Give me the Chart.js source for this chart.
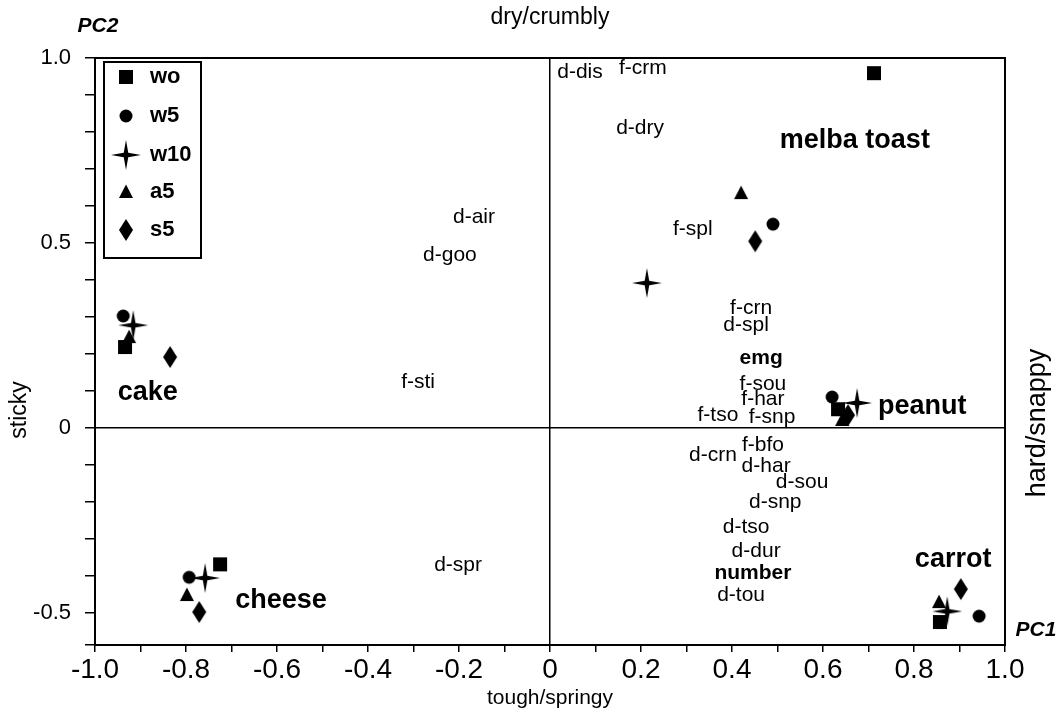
<!DOCTYPE html>
<html>
<head>
<meta charset="utf-8">
<script src="https://cdn.jsdelivr.net/npm/chart.js@4/dist/chart.umd.min.js"></script>
<style>
  html, body { margin: 0; padding: 0; background: #fff; }
  #wrap { width: 1059px; height: 717px; }
</style>
</head>
<body>
<div id="wrap"><canvas id="pca"></canvas></div>
<script>
// foods in order: cake, cheese, melba toast, peanut, carrot
const seriesNames = ['wo', 'w5', 'w10', 'a5', 's5'];
const woX = [-0.934, -0.725, 0.712, 0.633, 0.857];
const woY = [0.219, -0.368, 0.959, 0.051, -0.524];
const w5X = [-0.938, -0.793, 0.490, 0.620, 0.943];
const w5Y = [0.303, -0.403, 0.551, 0.084, -0.508];
const w10X = [-0.916, -0.758, 0.213, 0.675, 0.873];
const w10Y = [0.278, -0.405, 0.392, 0.068, -0.495];
const a5X = [-0.925, -0.798, 0.420, 0.642, 0.855];
const a5Y = [0.246, -0.451, 0.635, 0.022, -0.470];
const s5X = [-0.835, -0.771, 0.451, 0.655, 0.903];
const s5Y = [0.192, -0.497, 0.505, 0.035, -0.435];

// attribute / food labels placed in PC space
const labelText = ['d-dis', 'f-crm', 'd-dry', 'melba toast', 'd-air', 'd-goo', 'f-spl', 'f-crn', 'd-spl', 'emg',
  'f-sou', 'f-har', 'f-tso', 'f-snp', 'peanut', 'f-sti', 'cake', 'f-bfo', 'd-crn', 'd-har',
  'd-sou', 'd-snp', 'd-tso', 'd-dur', 'd-spr', 'number', 'd-tou', 'carrot', 'cheese'];
const labelX = [0.066, 0.204, 0.198, 0.670, -0.167, -0.220, 0.314, 0.442, 0.431, 0.464,
  0.468, 0.468, 0.369, 0.488, 0.818, -0.290, -0.884, 0.468, 0.358, 0.475,
  0.554, 0.495, 0.431, 0.453, -0.202, 0.446, 0.420, 0.886, -0.591];
const labelY = [0.962, 0.973, 0.811, 0.776, 0.570, 0.468, 0.538, 0.324, 0.278, 0.189,
  0.119, 0.078, 0.035, 0.030, 0.059, 0.124, 0.097, -0.046, -0.073, -0.103,
  -0.146, -0.200, -0.268, -0.332, -0.370, -0.392, -0.451, -0.354, -0.465];
// 0 = plain, 1 = bold, 2 = big bold
const labelKind = [0, 0, 0, 2, 0, 0, 0, 0, 0, 1,
  0, 0, 0, 0, 2, 0, 2, 0, 0, 0,
  0, 0, 0, 0, 0, 1, 0, 2, 2];

const xTicksMin = -1.0, xTicksMax = 1.0;
const yTicksMin = -0.586, yTicksMax = 1.0;

const FONT = '"Liberation Sans", Arial, sans-serif';

const marker = (shape) => {
  const c = document.createElement('canvas');
  const s = shape === 'star' ? 32 : 24;
  c.width = s; c.height = s;
  const g = c.getContext('2d');
  const m = s / 2;
  g.fillStyle = '#000';
  g.beginPath();
  if (shape === 'square') {
    g.rect(m - 7, m - 7, 14, 14);
  } else if (shape === 'circle') {
    g.arc(m, m, 6.5, 0, Math.PI * 2);
  } else if (shape === 'triangle') {
    g.moveTo(m, m - 7.5); g.lineTo(m + 7, m + 6); g.lineTo(m - 7, m + 6); g.closePath();
  } else if (shape === 'diamond') {
    g.moveTo(m, m - 11); g.lineTo(m + 7, m); g.lineTo(m, m + 11); g.lineTo(m - 7, m); g.closePath();
  } else if (shape === 'star') {
    for (let i = 0; i < 8; i++) {
      const a = i * Math.PI / 4 - Math.PI / 2;
      const r = i % 2 === 0 ? 15 : 3.2;
      const px = m + r * Math.cos(a), py = m + r * Math.sin(a);
      if (i === 0) g.moveTo(px, py); else g.lineTo(px, py);
    }
    g.closePath();
  }
  g.fill();
  return c;
};

const shapes = ['square', 'circle', 'star', 'triangle', 'diamond'];
const markers = shapes.map(marker);
const xs = [woX, w5X, w10X, a5X, s5X];
const ys = [woY, w5Y, w10Y, a5Y, s5Y];

const datasets = seriesNames.map((name, i) => ({
  label: name,
  data: xs[i].map((x, j) => ({ x: x, y: ys[i][j] })),
  pointStyle: markers[i],
  pointRadius: 8,
  backgroundColor: '#000',
  borderColor: '#000',
  showLine: false
}));

const decor = {
  id: 'decor',
  afterDatasetsDraw(chart) {
    const { ctx, chartArea: a, scales } = chart;
    ctx.save();
    // frame
    ctx.strokeStyle = '#000';
    ctx.lineWidth = 2;
    ctx.strokeRect(a.left, a.top, a.right - a.left, a.bottom - a.top);

    // labels
    ctx.fillStyle = '#000';
    ctx.textAlign = 'center';
    ctx.textBaseline = 'middle';
    labelText.forEach((t, i) => {
      const k = labelKind[i];
      ctx.font = k === 2 ? 'bold 27px ' + FONT : (k === 1 ? 'bold 21px ' + FONT : '21px ' + FONT);
      ctx.fillText(t, scales.x.getPixelForValue(labelX[i]), scales.y.getPixelForValue(labelY[i]));
    });

    // legend box
    const lx = a.left + 9, ly = a.top + 4;
    ctx.lineWidth = 2;
    ctx.strokeRect(lx, ly, 97, 196);
    const rows = [77, 116, 155, 192, 230];
    ctx.font = 'bold 22px ' + FONT;
    ctx.textAlign = 'left';
    seriesNames.forEach((n, i) => {
      const yy = rows[i];
      const mk = markers[i];
      ctx.drawImage(mk, 126 - mk.width / 2, yy - mk.height / 2);
      ctx.fillText(n, 150, yy);
    });

    // outer titles
    ctx.font = '23px ' + FONT;
    ctx.textAlign = 'center';
    ctx.fillText('dry/crumbly', (a.left + a.right) / 2, 18);
    ctx.save();
    ctx.translate(20, 410);
    ctx.rotate(-Math.PI / 2);
    ctx.fillText('sticky', 0, 0);
    ctx.restore();
    ctx.save();
    ctx.translate(1038, 423);
    ctx.rotate(-Math.PI / 2);
    ctx.font = '27px ' + FONT;
    ctx.fillText('hard/snappy', 0, 0);
    ctx.restore();
    ctx.font = 'italic bold 21px ' + FONT;
    ctx.fillText('PC2', 98, 26);
    ctx.fillText('PC1', 1036, 630);
    ctx.restore();
  }
};

const zeroLine = (c) => (Math.abs(c.tick.value) < 1e-9 ? '#000' : 'rgba(0,0,0,0)');

new Chart(document.getElementById('pca'), {
  type: 'scatter',
  data: { datasets: datasets },
  options: {
    responsive: true,
    maintainAspectRatio: false,
    animation: false,
    layout: { padding: { top: 58, right: 54, left: 0, bottom: 0 } },
    plugins: { legend: { display: false }, tooltip: { enabled: false } },
    scales: {
      x: {
        min: xTicksMin, max: xTicksMax,
        afterFit: (s) => { s.height = 72; },
        border: { display: true, color: '#000', width: 2 },
        grid: { color: zeroLine, lineWidth: 1.5, tickColor: '#000', tickLength: 7, tickWidth: 1.5 },
        ticks: {
          stepSize: 0.1, autoSkip: false, maxRotation: 0, padding: 1,
          color: '#000', font: { family: FONT, size: 28 },
          callback: (v) => {
            const r = Math.round(v * 10);
            if (r % 2 !== 0) return '';
            if (r === 0) return '0';
            return (r / 10).toFixed(1);
          }
        },
        title: { display: true, text: 'tough/springy', color: '#000', font: { family: FONT, size: 21 }, padding: { top: 0, bottom: 6 } }
      },
      y: {
        min: yTicksMin, max: yTicksMax,
        afterFit: (s) => { s.width = 95; },
        border: { display: true, color: '#000', width: 2 },
        grid: { color: zeroLine, lineWidth: 1.5, tickColor: '#000', tickLength: 10, tickWidth: 1.5 },
        ticks: {
          stepSize: 0.1, autoSkip: false, padding: 14,
          color: '#000', font: { family: FONT, size: 22 },
          callback: (v) => {
            const r = Math.round(v * 10);
            if (Math.abs(v * 10 - r) > 1e-6 || r % 5 !== 0) return '';
            if (r === 0) return '0';
            return (r / 10).toFixed(1);
          }
        },
        title: { display: false }
      }
    }
  },
  plugins: [decor]
});
</script>
</body>
</html>
